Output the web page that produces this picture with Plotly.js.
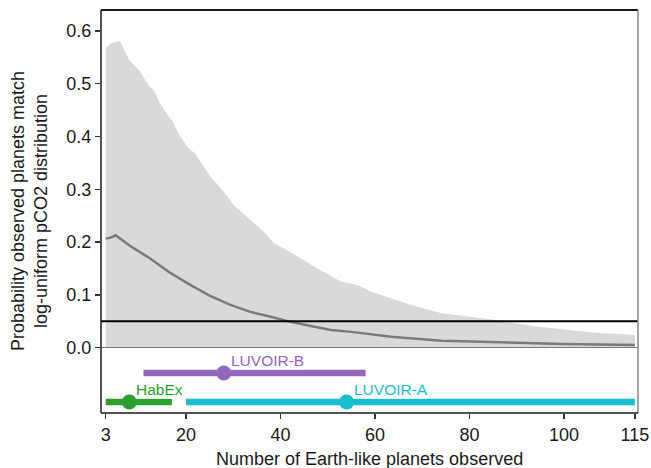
<!DOCTYPE html>
<html>
<head>
<meta charset="utf-8">
<script src="https://cdn.plot.ly/plotly-3.0.1.min.js"></script>
<style>html,body{margin:0;padding:0;background:#fff;}#chart{width:651px;height:468px;}</style>
</head>
<body>
<div id="chart"></div>
<script>
// Upper envelope of the shaded band
const bandX = [3, 4.2, 6, 8.1, 10.2, 12, 13.1, 14.5, 16.3, 17, 18.4, 20.2, 21.9, 23.3, 24.4, 25.4, 26.2, 28.3, 30.1, 32.9, 36.4, 38.6, 40.7, 44.3, 47.8, 50.7, 52.8, 56.3, 59.2, 63.4, 67.7, 74.1, 80.4, 86.8, 93.2, 99.6, 106.7, 115];
const bandHigh = [0.567, 0.577, 0.581, 0.543, 0.524, 0.498, 0.488, 0.463, 0.4375, 0.431, 0.406, 0.381, 0.368, 0.349, 0.333, 0.321, 0.314, 0.292, 0.270, 0.248, 0.220, 0.198, 0.188, 0.169, 0.150, 0.136, 0.125, 0.119, 0.106, 0.0936, 0.0809, 0.0652, 0.0587, 0.051, 0.041, 0.0348, 0.0284, 0.024];
// Median probability line
const medX = [3, 3.9, 5.1, 8.1, 12.4, 16.6, 20.9, 25.1, 29.4, 33.6, 37.9, 42.1, 46.4, 50.7, 55, 59.2, 63.4, 74.1, 86.8, 99.6, 115];
const medY = [0.207, 0.208, 0.213, 0.193, 0.169, 0.142, 0.119, 0.098, 0.081, 0.068, 0.0587, 0.049, 0.041, 0.0335, 0.030, 0.026, 0.0208, 0.0133, 0.0095, 0.007, 0.005];
const threshold = 0.05;

// Mission ranges
const missions = ["HabEx", "LUVOIR-B", "LUVOIR-A"];
const missionLow = [3, 11, 20];
const missionHigh = [17, 58, 115];
const missionMid = [8, 28, 54];
const missionRow = [1, 2, 1];
const missionColors = ["#2ca02c", "#9467bd", "#17becf"];

const xTicks = [3, 20, 40, 60, 80, 100, 115];
const yTicks = [0, 0.1, 0.2, 0.3, 0.4, 0.5, 0.6];

const FONT = "Liberation Sans, Arial, Helvetica, sans-serif";

const traces = [
  {x: bandX, y: bandHigh, type: "scatter", mode: "lines", fill: "tozeroy",
   fillcolor: "#d9d9d9", line: {width: 0, color: "#d9d9d9"}, xaxis: "x", yaxis: "y", hoverinfo: "skip"},
  {x: medX, y: medY, type: "scatter", mode: "lines",
   line: {color: "#7a7a7a", width: 2.5}, xaxis: "x", yaxis: "y"}
];
missions.forEach((m, i) => {
  traces.push({x: [missionLow[i], missionHigh[i]], y: [missionRow[i], missionRow[i]],
    type: "scatter", mode: "lines", line: {color: missionColors[i], width: 6.5},
    xaxis: "x", yaxis: "y2"});
  traces.push({x: [missionMid[i]], y: [missionRow[i]], type: "scatter", mode: "markers",
    marker: {color: missionColors[i], size: 15}, xaxis: "x", yaxis: "y2"});
});

const annotations = missions.map((m, i) => ({
  x: missionMid[i], y: missionRow[i], xref: "x", yref: "y2",
  text: m, showarrow: false, xanchor: "left", yanchor: "middle",
  xshift: 6, yshift: 13, bgcolor: "rgba(255,255,255,0.85)", borderpad: 0,
  font: {family: FONT, size: 15.5, color: missionColors[i]}
}));
annotations.push({
  x: -0.133, y: 0.5, xref: "paper", yref: "paper", textangle: -90,
  text: "Probability observed planets match<br>log-uniform pCO2 distribution",
  showarrow: false, xanchor: "center", yanchor: "middle",
  font: {family: FONT, size: 18, color: "#1a1a1a"}
});
annotations.push({
  x: 0.5, y: -0.114, xref: "paper", yref: "paper",
  text: "Number of Earth-like planets observed",
  showarrow: false, xanchor: "center", yanchor: "middle",
  font: {family: FONT, size: 18, color: "#1a1a1a"}
});

const layout = {
  width: 651, height: 468,
  margin: {l: 101, r: 13, t: 10, b: 55},
  paper_bgcolor: "#ffffff", plot_bgcolor: "#ffffff",
  showlegend: false,
  font: {family: FONT, size: 18, color: "#1a1a1a"},
  xaxis: {range: [2.0, 115.66], anchor: "y2", tickvals: xTicks, ticktext: xTicks.map(String),
    ticks: "outside", ticklen: 5, tickwidth: 1.5, tickcolor: "#333",
    showgrid: false, zeroline: false, showline: false,
    tickfont: {family: FONT, size: 18, color: "#1a1a1a"}},
  yaxis: {domain: [0.162, 1], range: [0, 0.6396], tickvals: yTicks,
    ticktext: yTicks.map(v => v.toFixed(1)),
    ticks: "outside", ticklen: 5, tickwidth: 1.5, tickcolor: "#333",
    showgrid: false, zeroline: false, showline: false,
    tickfont: {family: FONT, size: 18, color: "#1a1a1a"}},
  yaxis2: {domain: [0, 0.162], range: [0.622, 2.872], showticklabels: false,
    ticks: "", showgrid: false, zeroline: false, showline: false},
  shapes: [
    {type: "line", xref: "paper", yref: "y", x0: 0, x1: 1, y0: threshold, y1: threshold,
     line: {color: "#000", width: 2}},
    {type: "line", xref: "paper", yref: "y", x0: 0, x1: 1, y0: 0, y1: 0,
     line: {color: "#555", width: 1.5}},
    {type: "line", xref: "paper", yref: "paper", x0: 0, x1: 1, y0: 1, y1: 1,
     line: {color: "#1a1a1a", width: 2}},
    {type: "line", xref: "paper", yref: "paper", x0: 0, x1: 0, y0: 0, y1: 1,
     line: {color: "#1a1a1a", width: 1.5}},
    {type: "line", xref: "paper", yref: "paper", x0: 1, x1: 1, y0: 0, y1: 1,
     line: {color: "#888", width: 1.5}},
    {type: "line", xref: "paper", yref: "paper", x0: 0, x1: 1, y0: 0, y1: 0,
     line: {color: "#1a1a1a", width: 1.5}}
  ],
  annotations: annotations
};

Plotly.newPlot("chart", traces, layout, {displayModeBar: false, staticPlot: true});
</script>
</body>
</html>
